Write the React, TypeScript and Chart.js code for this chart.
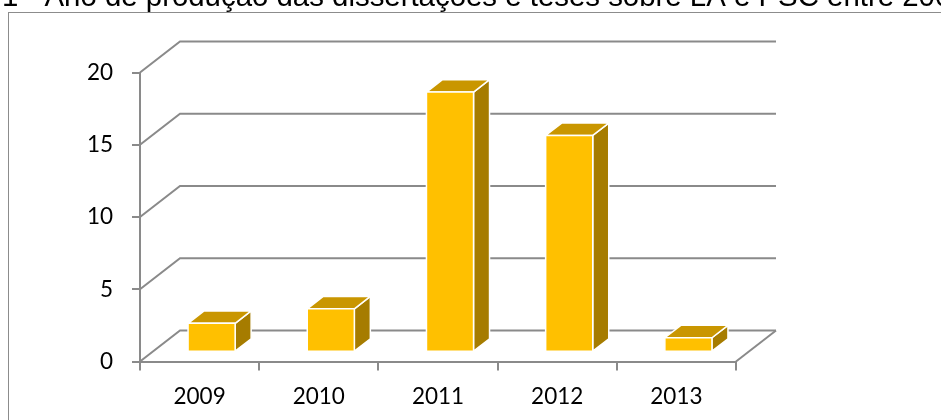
import React, { useEffect, useRef } from 'react';
import { Chart, registerables } from 'chart.js';

Chart.register(...registerables);

const TITLE = '1 - Ano de produção das dissertações e teses sobre LA e PSC entre 2009 e 2013';
const categories = ['2009', '2010', '2011', '2012', '2013'];
const values = [2, 3, 18, 15, 1];
const yMin = 0;
const yMax = 20;
const yStep = 5;

const GRID = '#8a8a8a';
const FRONT = '#FFC000';
const TOP = '#C99600';
const SIDE = '#A67C00';
const DX = 40;
const DY = -31;

const threeD = {
  id: 'threeD',
  beforeDraw(chart: any) {
    const ctx = chart.ctx;
    ctx.save();
    ctx.fillStyle = '#ffffff';
    ctx.fillRect(0, 0, chart.width, chart.height);
    ctx.strokeStyle = '#8c8c8c';
    ctx.lineWidth = 1;
    ctx.strokeRect(8.5, 12.5, chart.width + 20, chart.height + 20);
    ctx.fillStyle = '#000000';
    ctx.font = '29.4px "Liberation Sans", Arial, sans-serif';
    ctx.textBaseline = 'alphabetic';
    ctx.textAlign = 'left';
    ctx.fillText(TITLE, 2, 6);
    ctx.restore();
  },
  beforeDatasetsDraw(chart: any) {
    const { ctx, chartArea, scales } = chart;
    const y = scales.y;
    ctx.save();
    ctx.strokeStyle = GRID;
    ctx.lineWidth = 2;
    ctx.lineJoin = 'miter';
    y.ticks.forEach((t: any) => {
      const py = y.getPixelForValue(t.value);
      ctx.beginPath();
      ctx.moveTo(chartArea.left, py);
      ctx.lineTo(chartArea.left + DX, py + DY);
      ctx.lineTo(chartArea.right + DX, py + DY);
      ctx.stroke();
    });
    const p0 = y.getPixelForValue(yMin);
    ctx.beginPath();
    ctx.moveTo(chartArea.right, p0);
    ctx.lineTo(chartArea.right + DX, p0 + DY);
    ctx.stroke();
    ctx.restore();
  },
  afterDatasetsDraw(chart: any) {
    const ctx = chart.ctx;
    const meta = chart.getDatasetMeta(0);
    ctx.save();
    ctx.strokeStyle = '#ffffff';
    ctx.lineWidth = 1.5;
    ctx.lineJoin = 'round';
    const ox = DX * 0.3;
    const oy = DY * 0.3;
    const dx = DX * 0.4;
    const dy = DY * 0.4;
    meta.data.forEach((el: any) => {
      const p = el.getProps(['x', 'y', 'base', 'width'], true);
      const l = p.x - p.width / 2 + ox;
      const r = p.x + p.width / 2 + ox;
      const t = p.y + oy;
      const b = p.base + oy;
      ctx.beginPath();
      ctx.moveTo(r, t);
      ctx.lineTo(r + dx, t + dy);
      ctx.lineTo(r + dx, b + dy);
      ctx.lineTo(r, b);
      ctx.closePath();
      ctx.fillStyle = SIDE;
      ctx.fill();
      ctx.stroke();
      ctx.beginPath();
      ctx.moveTo(l, t);
      ctx.lineTo(r, t);
      ctx.lineTo(r + dx, t + dy);
      ctx.lineTo(l + dx, t + dy);
      ctx.closePath();
      ctx.fillStyle = TOP;
      ctx.fill();
      ctx.stroke();
      ctx.beginPath();
      ctx.rect(l, t, r - l, b - t);
      ctx.fillStyle = FRONT;
      ctx.fill();
      ctx.stroke();
    });
    ctx.restore();
  },
};

export default function App() {
  const ref = useRef<HTMLCanvasElement>(null);
  useEffect(() => {
    if (!ref.current) return;
    const chart = new Chart(ref.current, {
      type: 'bar',
      data: {
        labels: categories,
        datasets: [
          {
            data: values,
            backgroundColor: 'rgba(0,0,0,0)',
            borderWidth: 0,
            categoryPercentage: 1,
            barPercentage: 0.395,
          },
        ],
      },
      options: {
        animation: false,
        responsive: false,
        devicePixelRatio: 1,
        layout: { padding: { left: 0, top: 72.5, right: 205, bottom: 0 } },
        plugins: { legend: { display: false }, title: { display: false }, tooltip: { enabled: false } },
        scales: {
          x: {
            offset: true,
            grid: {
              offset: true,
              drawOnChartArea: false,
              drawTicks: true,
              tickLength: 9,
              color: GRID,
              lineWidth: 2,
            },
            border: { display: true, color: GRID, width: 2 },
            ticks: {
              color: '#000',
              padding: 13,
              font: { family: 'Lato', size: 22.5 },
              maxRotation: 0,
            },
            afterFit: (scale: any) => {
              scale.height = 58.5;
            },
          },
          y: {
            min: yMin,
            max: yMax,
            grid: {
              drawOnChartArea: false,
              drawTicks: true,
              tickLength: 8,
              color: GRID,
              lineWidth: 2,
            },
            border: { display: true, color: GRID, width: 2 },
            ticks: {
              stepSize: yStep,
              color: '#000',
              padding: 19,
              font: { family: 'Lato', size: 22.5 },
            },
            afterFit: (scale: any) => {
              scale.width = 140;
            },
          },
        },
      },
      plugins: [threeD],
    });
    return () => chart.destroy();
  }, []);
  return (
    <div style={{ position: 'fixed', left: 0, top: 0, width: 941, height: 420 }}>
      <canvas ref={ref} width={941} height={420} />
    </div>
  );
}
